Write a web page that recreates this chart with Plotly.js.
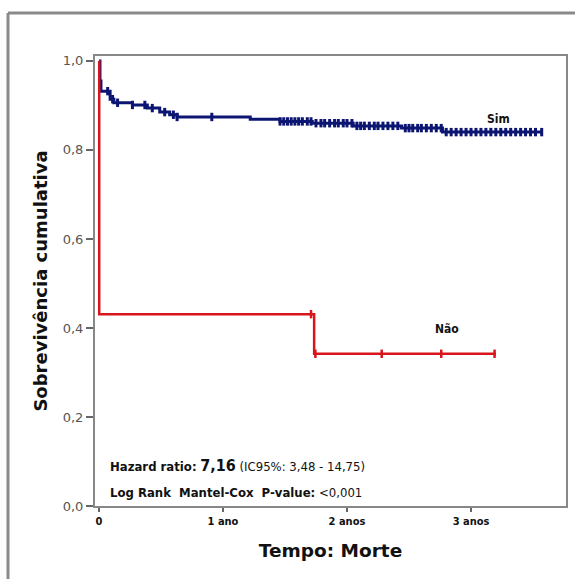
<!DOCTYPE html>
<html>
<head>
<meta charset="utf-8">
<script src="https://cdn.plot.ly/plotly-3.0.1.min.js"></script>
<style>html,body{margin:0;padding:0;background:#fff;overflow:hidden;}#chart{width:575px;height:579px;}</style>
</head>
<body>
<div id="chart"></div>
<script>
// Group "Sim": Kaplan-Meier step points (years, cumulative survival)
var simTime = [0, 0.008, 0.016, 0.09, 0.12, 0.27, 0.39, 0.49, 0.57, 0.63, 1.22, 1.46, 1.72, 2.05, 2.44, 2.77, 3.57];
var simSurv = [1.0, 0.955, 0.932, 0.914, 0.906, 0.901, 0.894, 0.885, 0.879, 0.874, 0.869, 0.864, 0.860, 0.854, 0.849, 0.840, 0.840];
// Group "Sim": censored times
var simCens = [0.07, 0.11, 0.15, 0.27, 0.37, 0.43, 0.53, 0.60, 0.63, 0.91,
  1.46, 1.49, 1.52, 1.55, 1.58, 1.61, 1.64, 1.68, 1.71, 1.75, 1.79, 1.82, 1.86, 1.90, 1.93, 1.97,
  2.00, 2.04, 2.08, 2.11, 2.14, 2.18, 2.22, 2.25, 2.29, 2.33, 2.37, 2.41, 2.47, 2.50, 2.53, 2.57,
  2.60, 2.64, 2.68, 2.72, 2.76, 2.80, 2.84, 2.88, 2.92, 2.96, 3.00, 3.04, 3.08, 3.12, 3.16, 3.20,
  3.24, 3.28, 3.32, 3.36, 3.40, 3.44, 3.48, 3.52, 3.57];

// Group "Não"
var naoTime = [0, 0.002, 1.735, 3.2];
var naoSurv = [1.0, 0.431, 0.342, 0.342];
var naoCens = [1.71, 1.745, 2.28, 2.76, 3.19];

var xTickVals = [0, 1, 2, 3];
var xTickText = ['0', '1 ano', '2 anos', '3 anos'];
var yTickVals = [0, 0.2, 0.4, 0.6, 0.8, 1.0];
var yTickText = ['0,0', '0,2', '0,4', '0,6', '0,8', '1,0'];

var groupLabels = ['Sim', 'Não'];
var statLine1 = '<b>Hazard ratio:</b> <span style="font-size:16px"><b>7,16</b></span> (IC95%: 3,48 - 14,75)';
var statLine2 = '<b>Log Rank  Mantel-Cox  P-value:</b> &lt;0,001';

function survAt(times, surv, t) {
  var s = surv[0];
  for (var i = 0; i < times.length; i++) { if (times[i] <= t) s = surv[i]; }
  return s;
}

var navy = '#0c1672';
var red = '#d8141c';

var traces = [
  {x: simTime, y: simSurv, mode: 'lines', line: {shape: 'hv', color: navy, width: 3}, hoverinfo: 'skip', showlegend: false},
  {x: simCens, y: simCens.map(function(t){return survAt(simTime, simSurv, t);}), mode: 'markers',
   marker: {symbol: 'line-ns-open', size: 6, color: navy, line: {color: navy, width: 3}}, showlegend: false},
  {x: naoTime, y: naoSurv, mode: 'lines', line: {shape: 'hv', color: red, width: 2.5}, hoverinfo: 'skip', showlegend: false},
  {x: naoCens, y: naoCens.map(function(t){return survAt(naoTime, naoSurv, t);}), mode: 'markers',
   marker: {symbol: 'line-ns-open', size: 6, color: red, line: {color: red, width: 2.5}}, showlegend: false}
];

var layout = {
  width: 575, height: 579,
  margin: {l: 95, r: 9, t: 56, b: 73},
  paper_bgcolor: '#fff', plot_bgcolor: '#fff',
  font: {family: 'DejaVu Sans', color: '#111'},
  xaxis: {
    range: [-0.032, 3.766], tickvals: xTickVals, ticktext: xTickText,
    ticks: 'outside', ticklen: 4, tickwidth: 2, tickcolor: '#666',
    showline: true, linecolor: '#888', linewidth: 2, mirror: true,
    showgrid: false, zeroline: false,
    tickfont: {family: 'DejaVu Sans Condensed', size: 11, weight: 'bold', color: '#111'},
    title: {text: 'Tempo: Morte', font: {family: 'DejaVu Sans', size: 18.5, weight: 'bold', color: '#111'}, standoff: 17}
  },
  yaxis: {
    range: [0, 1.011], tickvals: yTickVals, ticktext: yTickText,
    ticks: 'outside', ticklen: 7, tickwidth: 2, tickcolor: '#666',
    showline: true, linecolor: '#888', linewidth: 2, mirror: true,
    showgrid: false, zeroline: false,
    tickfont: {family: 'DejaVu Sans', size: 13, color: '#555'},
    title: {text: 'Sobrevivência cumulativa', font: {family: 'DejaVu Sans', size: 18, weight: 'bold', color: '#111'}, standoff: 10}
  },
  shapes: [
    {type: 'line', xref: 'paper', yref: 'paper', x0: -0.1847, x1: 1.0191, y0: 1.0956, y1: 1.0956,
     line: {color: '#8a8a8a', width: 3}},
    {type: 'line', xref: 'paper', yref: 'paper', x0: -0.1847, x1: -0.1847, y0: -0.162, y1: 1.0956,
     line: {color: '#8a8a8a', width: 3}}
  ],
  annotations: [
    {x: 3.22, y: 0.870, xref: 'x', yref: 'y', text: '<b>' + groupLabels[0] + '</b>', showarrow: false,
     font: {family: 'DejaVu Sans Condensed', size: 12, color: '#111'}},
    {x: 2.81, y: 0.398, xref: 'x', yref: 'y', text: '<b>' + groupLabels[1] + '</b>', showarrow: false,
     font: {family: 'DejaVu Sans Condensed', size: 12, color: '#111'}},
    {x: 0.07, y: 0.092, xref: 'x', yref: 'y', xanchor: 'left', text: statLine1, showarrow: false,
     font: {family: 'DejaVu Sans Condensed', size: 13, color: '#111'}},
    {x: 0.07, y: 0.031, xref: 'x', yref: 'y', xanchor: 'left', text: statLine2, showarrow: false,
     font: {family: 'DejaVu Sans Condensed', size: 13, color: '#111'}}
  ]
};

Plotly.newPlot('chart', traces, layout, {displayModeBar: false, staticPlot: true});
</script>
</body>
</html>
